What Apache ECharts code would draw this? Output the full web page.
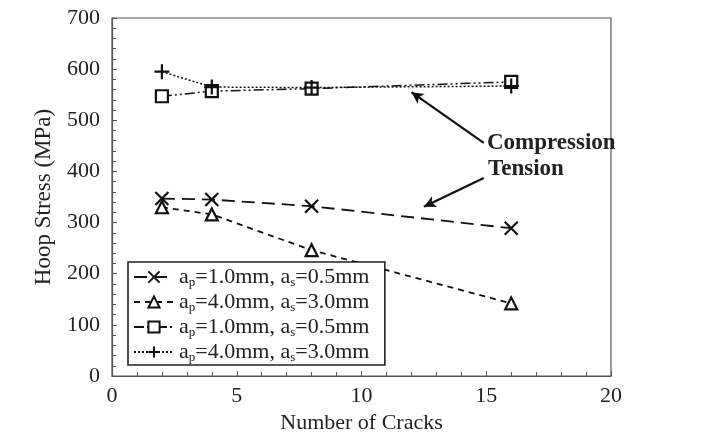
<!DOCTYPE html>
<html><head><meta charset="utf-8">
<script src="https://cdn.jsdelivr.net/npm/echarts@6/dist/echarts.min.js"></script>
<style>html,body{margin:0;padding:0;background:#fff}#c{width:715px;height:434px}</style>
</head><body><div id="c"></div>
<script>
const cracks = [2, 4, 8, 16];
const tensionSmall = [347, 345, 332, 289];
const tensionLarge = [330, 316, 246, 142];
const compSmall = [547, 557, 562, 575];
const compLarge = [595, 565, 564, 567];
const seriesNames = ['a{sub|p}=1.0mm, a{sub|s}=0.5mm', 'a{sub|p}=4.0mm, a{sub|s}=3.0mm', 'a{sub|p}=1.0mm, a{sub|s}=0.5mm ', 'a{sub|p}=4.0mm, a{sub|s}=3.0mm '];
const xTicks = [0, 5, 10, 15, 20];
const yTicks = [0, 100, 200, 300, 400, 500, 600, 700];
const arrowCompression = [[14.9, 456], [12.0, 555]];
const arrowTension = [[14.9, 387], [12.5, 331]];

const F = 'Liberation Serif';
const pts = v => cracks.map((x, i) => [x, v[i]]);
const X = 'path://M0,0L10,10M10,0L0,10';
const P = 'path://M5,0L5,10M0,5L10,5';
function mk(name, data, symbol, size, dash, width, extra) {
  return Object.assign({
    name: name, type: 'line', data: pts(data), symbol: symbol, symbolSize: size,
    showAllSymbol: true,
    lineStyle: {color: '#111', width: width, type: dash},
    itemStyle: {color: symbol.startsWith('path') ? 'none' : '#fff', borderColor: '#111', borderWidth: 2.2},
    emphasis: {disabled: true}, z: 3
  }, extra || {});
}
const chart = echarts.init(document.getElementById('c'), null, {renderer: 'canvas'});
chart.setOption({
  animation: false,
  backgroundColor: '#fff',
  grid: {left: 112, right: 104, top: 18, bottom: 58, outerBoundsMode: 'none', containLabel: false,
    show: true, borderColor: '#555', borderWidth: 1.2},
  xAxis: {
    type: 'value', min: 0, max: 20, interval: 5,
    name: 'Number of Cracks', nameLocation: 'middle', nameGap: 33,
    nameTextStyle: {fontFamily: F, fontSize: 22, color: '#222'},
    axisLine: {lineStyle: {color: '#555', width: 1.2}},
    axisTick: {inside: true, length: 5, lineStyle: {color: '#555'}},
    minorTick: {show: true, splitNumber: 5, length: 4, lineStyle: {color: '#555'}},
    splitLine: {show: false},
    axisLabel: {fontFamily: F, fontSize: 22, color: '#222', margin: 9, formatter: v => xTicks.includes(v) ? String(v) : ''}
  },
  yAxis: {
    type: 'value', min: 0, max: 700, interval: 100,
    name: 'Hoop Stress (MPa)', nameLocation: 'middle', nameGap: 57,
    nameTextStyle: {fontFamily: F, fontSize: 23, color: '#222'},
    axisLine: {lineStyle: {color: '#555', width: 1.2}},
    axisTick: {inside: true, length: 5, lineStyle: {color: '#555'}},
    minorTick: {show: true, splitNumber: 5, length: 4, lineStyle: {color: '#555'}},
    splitLine: {show: false},
    axisLabel: {fontFamily: F, fontSize: 22, color: '#222', margin: 12, formatter: v => yTicks.includes(v) ? String(v) : ''}
  },
  legend: {
    orient: 'vertical', left: 128, top: 262, padding: [3, 10, 1, 5], itemGap: 1,
    itemWidth: 40, itemHeight: 14,
    borderColor: '#222', borderWidth: 1.6, backgroundColor: '#fff',
    data: seriesNames,
    textStyle: {fontFamily: F, fontSize: 22, color: '#222', lineHeight: 24,
      rich: {sub: {fontFamily: F, fontSize: 13, color: '#222', verticalAlign: 'bottom', lineHeight: 24, padding: [9, 0, 0, 0]}}}
  },
  series: [
    mk(seriesNames[0], tensionSmall, X, 13, [13, 7], 1.8),
    mk(seriesNames[1], tensionLarge, 'triangle', 12, [6, 5], 1.8),
    mk(seriesNames[2], compSmall, 'rect', 12, [10, 3, 2, 3, 2, 3], 1.5),
    mk(seriesNames[3], compLarge, P, 15, [2, 2], 1.5, {
      markLine: {
        silent: true, symbol: ['none', 'arrow'], symbolSize: [9, 12],
        lineStyle: {color: '#111', width: 2.2, type: 'solid'}, label: {show: false},
        data: [
          [{coord: arrowCompression[0]}, {coord: arrowCompression[1]}],
          [{coord: arrowTension[0]}, {coord: arrowTension[1]}]
        ]
      }
    })
  ],
  graphic: [
    {type: 'text', left: 487, top: 132, style: {text: 'Compression', font: 'bold 23px "Liberation Serif"', fill: '#222'}},
    {type: 'text', left: 488, top: 158, style: {text: 'Tension', font: 'bold 23px "Liberation Serif"', fill: '#222'}}
  ]
});
</script></body></html>
